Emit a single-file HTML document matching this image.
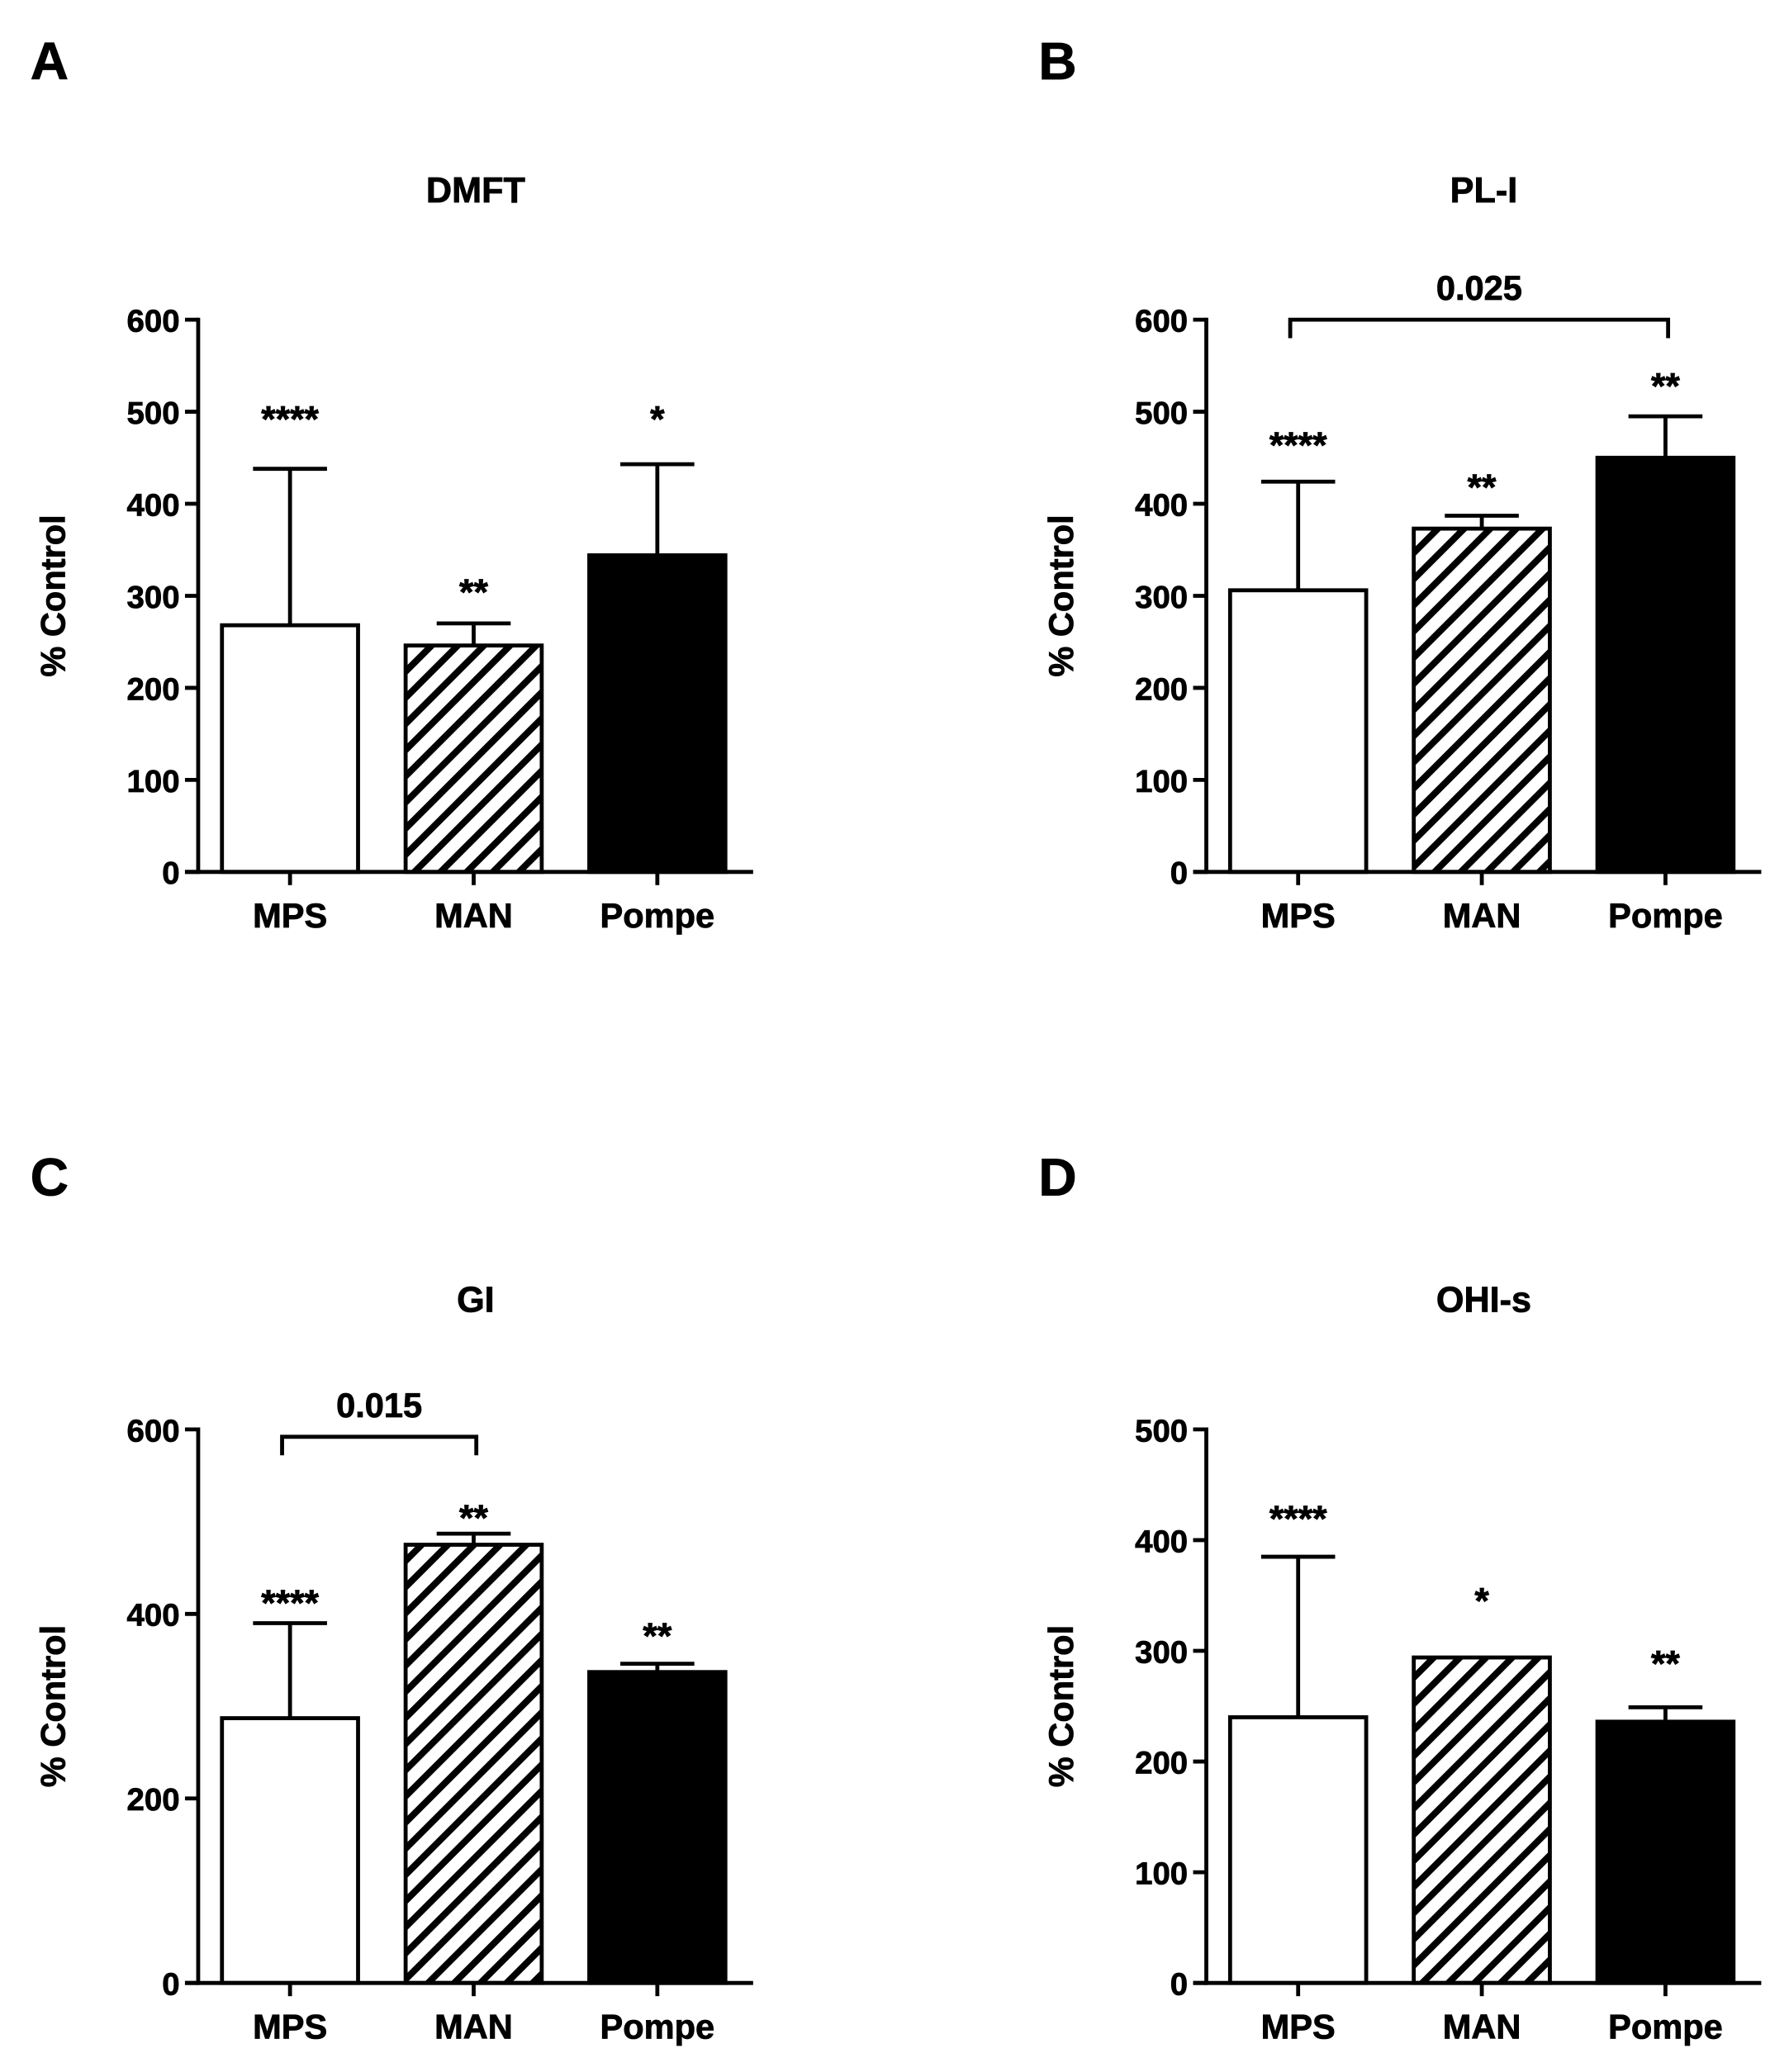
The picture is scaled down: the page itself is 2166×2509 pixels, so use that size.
<!DOCTYPE html>
<html><head><meta charset="utf-8"><style>html,body{margin:0;padding:0;background:#fff}svg{display:block}text{stroke:#000;stroke-width:0.5px}</style></head>
<body>
<svg id="fig" xmlns="http://www.w3.org/2000/svg" width="2166" height="2509" viewBox="0 0 1354 1568.4" preserveAspectRatio="none" font-family="Liberation Sans, Arial, sans-serif" font-weight="bold">
<defs>
<pattern id="hatch" patternUnits="userSpaceOnUse" width="14" height="14" patternTransform="rotate(45)">
<rect width="14" height="14" fill="#fff"/>
<rect x="0" y="0" width="5" height="14" fill="#000"/>
</pattern>
</defs>
</svg>
<script>
const categories = ["MPS","MAN","Pompe"];
const titles = ["DMFT","PL-I","GI","OHI-s"];
const letters = ["A","B","C","D"];
const valuesA = [268,246,344];
const errorsA = [438,270,443];
const starsA = ["****","**","*"];
const starValA = [500,312,500];
const valuesB = [306,373,450];
const errorsB = [424,387,495];
const starsB = ["****","**","**"];
const starValB = [472,426,536];
const valuesC = [287,475,337];
const errorsC = [390,487,346];
const starsC = ["****","**","**"];
const starValC = [420,512,384];
const valuesD = [240,294,236];
const errorsD = [385,294,249];
const starsD = ["****","*","**"];
const starValD = [426,352,295];
const ticksA = [0,100,200,300,400,500,600];
const ticksC = [0,200,400,600];
const ticksD = [0,100,200,300,400,500];
const bracketB = {from:0,to:2,value:600,label:"0.025"};
const bracketC = {from:0,to:1,value:592,label:"0.015"};

const svg = document.getElementById('fig');
const NS = 'http://www.w3.org/2000/svg';
function mk(tag, attrs, parent){const e=document.createElementNS(NS,tag);for(const k in attrs)e.setAttribute(k,attrs[k]);(parent||svg).appendChild(e);return e;}

const panels = [
 {ox:0, top:242, zero:660, max:600, ticks:ticksA, vals:valuesA, errs:errorsA, stars:starsA, sv:starValA, br:null, ty:143, ly:45},
 {ox:763, top:242, zero:660, max:600, ticks:ticksA, vals:valuesB, errs:errorsB, stars:starsB, sv:starValB, br:bracketB, ty:143, ly:45},
 {ox:0, top:1082, zero:1501, max:600, ticks:ticksC, vals:valuesC, errs:errorsC, stars:starsC, sv:starValC, br:bracketC, ty:983, ly:890},
 {ox:763, top:1082, zero:1501, max:500, ticks:ticksD, vals:valuesD, errs:errorsD, stars:starsD, sv:starValD, br:null, ty:983, ly:890}
];
const barLeft = [168,307,446];
const barW = 103;
const fills = ["#fff","url(#hatch)","#000"];

panels.forEach((p,pi)=>{
  const g = mk('g',{});
  
  
  const y = v => p.zero - (v/p.max)*(p.zero-p.top);
  const xc = i => p.ox + barLeft[i] + barW/2;
  const L = mk('text',{x:p.ox+23,y:p.ly+15,'font-size':40},g); L.textContent=letters[pi];
  
  
  const T = mk('text',{x:p.ox+360,y:p.ty+10,'font-size':27,'text-anchor':'middle'},g); T.textContent=titles[pi];
  
  
  const yl = mk('text',{x:0,y:0,'font-size':26,'text-anchor':'middle',transform:`translate(${p.ox+49},${(p.top+p.zero)/2}) rotate(-90)`},g); yl.textContent='% Control';
  
  
  p.vals.forEach((v,i)=>{
    const ex = xc(i);
    if(p.errs[i]>v){
      const e1=mk('line',{x1:ex,x2:ex,y1:y(v),y2:y(p.errs[i]),stroke:'#000','stroke-width':3},g);
      
      
      const e2=mk('line',{x1:ex-28,x2:ex+28,y1:y(p.errs[i]),y2:y(p.errs[i]),stroke:'#000','stroke-width':3},g);
      
      
    }
    const r=mk('rect',{x:p.ox+barLeft[i],y:y(v),width:barW,height:p.zero-y(v),fill:fills[i],stroke:'#000','stroke-width':3},g);
    
    
    const s=mk('text',{x:ex,y:y(p.sv[i])+15,'font-size':28,'text-anchor':'middle'},g); s.textContent=p.stars[i];
    
    
    const c=mk('text',{x:ex,y:p.zero+42,'font-size':26,'text-anchor':'middle'},g); c.textContent=categories[i];
    
    
    const tk=mk('line',{x1:ex,x2:ex,y1:p.zero,y2:p.zero+10,stroke:'#000','stroke-width':3},g);
    
    
  });
  const ax=mk('line',{x1:p.ox+150,x2:p.ox+150,y1:p.top-1.5,y2:p.zero+1.5,stroke:'#000','stroke-width':3},g);
  
  
  const xx=mk('line',{x1:p.ox+140,x2:p.ox+570,y1:p.zero,y2:p.zero,stroke:'#000','stroke-width':3},g);
  
  
  p.ticks.forEach(t=>{
    const l=mk('line',{x1:p.ox+140,x2:p.ox+150,y1:y(t),y2:y(t),stroke:'#000','stroke-width':3},g);
    
    
    const tl=mk('text',{x:p.ox+136,y:y(t)+9,'font-size':24,'text-anchor':'end'},g); tl.textContent=t;
    
    
  });
  if(p.br){
    const by=y(p.br.value), x1=xc(p.br.from)-6, x2=xc(p.br.to)+2;
    const b=mk('path',{d:`M${x1},${by+14}V${by}H${x2}V${by+14}`,fill:'none',stroke:'#000','stroke-width':3},g);
    
    
    const bl=mk('text',{x:(x1+x2)/2,y:by-15,'font-size':26,'text-anchor':'middle'},g); bl.textContent=p.br.label;
    
    
  }
});
</script>
</body></html>
